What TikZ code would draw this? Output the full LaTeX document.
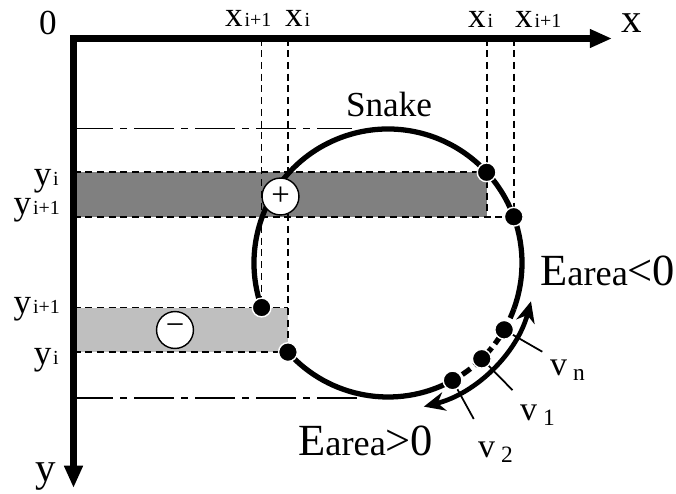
\documentclass[tikz,border=0pt]{standalone}
\usepackage{fontspec}
\setmainfont{Liberation Serif}
\usetikzlibrary{arrows.meta}

\newcommand{\sizedtext}[1]{\fontsize{#1}{#1}\selectfont}
\newcommand{\idx}[2]{{\sizedtext{30pt}#1}\kern1.5pt{\sizedtext{17pt}#2}}
\newcommand{\vlbl}[1]{{\sizedtext{29pt}v}\kern5pt\raisebox{-5pt}{\sizedtext{20pt}#1}}
\newcommand{\energy}[1]{{\sizedtext{38pt}E}{\sizedtext{31pt}area}{\sizedtext{38pt}#1}}

\begin{document}
\begin{tikzpicture}[
    x=0.3mm, y=-0.3mm,
    axis/.style={line width=6pt, line join=miter,
                 {Triangle[length=19pt, width=15pt]}-{Triangle[length=19pt, width=15pt]}},
    guide/.style={line width=1.5pt, dash pattern=on 6pt off 4pt},
    bound/.style={line width=1.5pt, dash pattern=on 34pt off 6pt on 6pt off 6pt},
    snake/.style={line width=4.5pt},
    tick/.style={line width=1.5pt},
    motion/.style={line width=4pt,
                   {Stealth[length=18pt, width=16pt]}-{Stealth[length=18pt, width=16pt]}},
    vertex/.style={circle, fill=black, draw=white, line width=1.2pt,
                   inner sep=0pt, minimum size=16pt},
    sign/.style={circle, draw, fill=white, line width=1.2pt, inner sep=0pt,
                 minimum size=31.5pt, font=\sizedtext{28pt}},
    lbl/.style={inner sep=0pt}
]
  \useasboundingbox (0,0) rectangle (676,493);

  \coordinate (O) at (73.5,38.5);
  \coordinate (xtip) at (612,38.5);
  \coordinate (ytip) at (73.5,488);
  \coordinate (ctr) at (388,263);

  % snake points
  \coordinate (pA) at ([shift={(-42.6:134)}]ctr);
  \coordinate (pB) at ([shift={(-20.2:134)}]ctr);
  \coordinate (pC) at ([shift={(160.6:134)}]ctr);
  \coordinate (pD) at ([shift={(138.3:134)}]ctr);
  \coordinate (pVn) at ([shift={(29.9:134)}]ctr);
  \coordinate (pV1) at ([shift={(45.6:134)}]ctr);
  \coordinate (pV2) at ([shift={(61.2:134)}]ctr);
  \coordinate (topend) at (352,128.5);
  \coordinate (botend) at (357,398);

  % area strips
  \fill[black!50] (O |- pA) rectangle (pA |- pB);
  \fill[black!25] (O |- pC) rectangle (pD);

  \draw[guide] (pA |- O) -- (pA);
  \draw[guide] (pB |- O) -- (pB);
  \draw[guide] (pC |- O) -- (pC);
  \draw[guide] (pD |- O) -- (pD);
  \draw[guide] (O |- pA) -- (pA) -- (pA |- pB);
  \draw[guide] (O |- pB) -- (pB);
  \draw[guide] (O |- pC) -- (pC) -- (pD |- pC);
  \draw[guide] (O |- pD) -- (pD);

  \draw[bound] (O |- topend) -- (topend);
  \draw[bound] (O |- botend) -- (botend);

  % contour
  \draw[snake] (pC) arc[start angle=-199.4, end angle=20, radius=134];
  \draw[snake, dash pattern=on 8.5pt off 4.3pt]
    ([shift={(20:134)}]ctr) arc[start angle=20, end angle=62, radius=134];
  \draw[snake] ([shift={(62:134)}]ctr) arc[start angle=62, end angle=138.3, radius=134];

  \draw[tick] (pVn) -- ([shift={(29.9:178)}]ctr);
  \draw[tick] (pV1) -- ([shift={(45.6:178)}]ctr);
  \draw[tick] (pV2) -- ([shift={(61.2:178)}]ctr);

  \draw[motion] ([shift={(15:148)}]ctr) arc[start angle=15, end angle=76, radius=148];

  \foreach \p in {A, B, C, D, Vn, V1, V2}
    \node[vertex] (dot\p) at (p\p) {};

  \node[sign] (plus) at (280.5,196.5) {+};
  \node[sign] (minus) at (175,330) {−};

  \draw[axis] (ytip) -- (O) -- (xtip);

  % labels
  \node[lbl, anchor=base, font=\sizedtext{30pt}] (zero) at (48,35) {0};
  \node[lbl, anchor=base, font=\sizedtext{35pt}] (xlab) at (632,33) {x};
  \node[lbl, anchor=base, font=\sizedtext{35pt}] (ylab) at (46,481) {y};

  \node[lbl, anchor=base west] (xl1) at (225,27) {\idx{x}{i+1}};
  \node[lbl, anchor=base west] (xl2) at (285,27) {\idx{x}{i}};
  \node[lbl, anchor=base west] (xr1) at (468,28) {\idx{x}{i}};
  \node[lbl, anchor=base west] (xr2) at (515,28) {\idx{x}{i+1}};

  \node[lbl, anchor=base east] (yt1) at (59,185) {\idx{y}{i}};
  \node[lbl, anchor=base east] (yt2) at (60,214) {\idx{y}{i+1}};
  \node[lbl, anchor=base east] (yb1) at (60,313) {\idx{y}{i+1}};
  \node[lbl, anchor=base east] (yb2) at (59,364) {\idx{y}{i}};

  \node[lbl, anchor=base, font=\sizedtext{30pt}] (snk) at (389,116) {Snake};
  \node[lbl, anchor=base west] (eneg) at (540,285) {\energy{<0}};
  \node[lbl, anchor=base west] (epos) at (298,455) {\energy{>0}};

  \node[lbl, anchor=base west] (vn) at (550,375) {\vlbl{n}};
  \node[lbl, anchor=base west] (v1) at (520,420) {\vlbl{1}};
  \node[lbl, anchor=base west] (v2) at (478,457) {\vlbl{2}};
\end{tikzpicture}
\end{document}
